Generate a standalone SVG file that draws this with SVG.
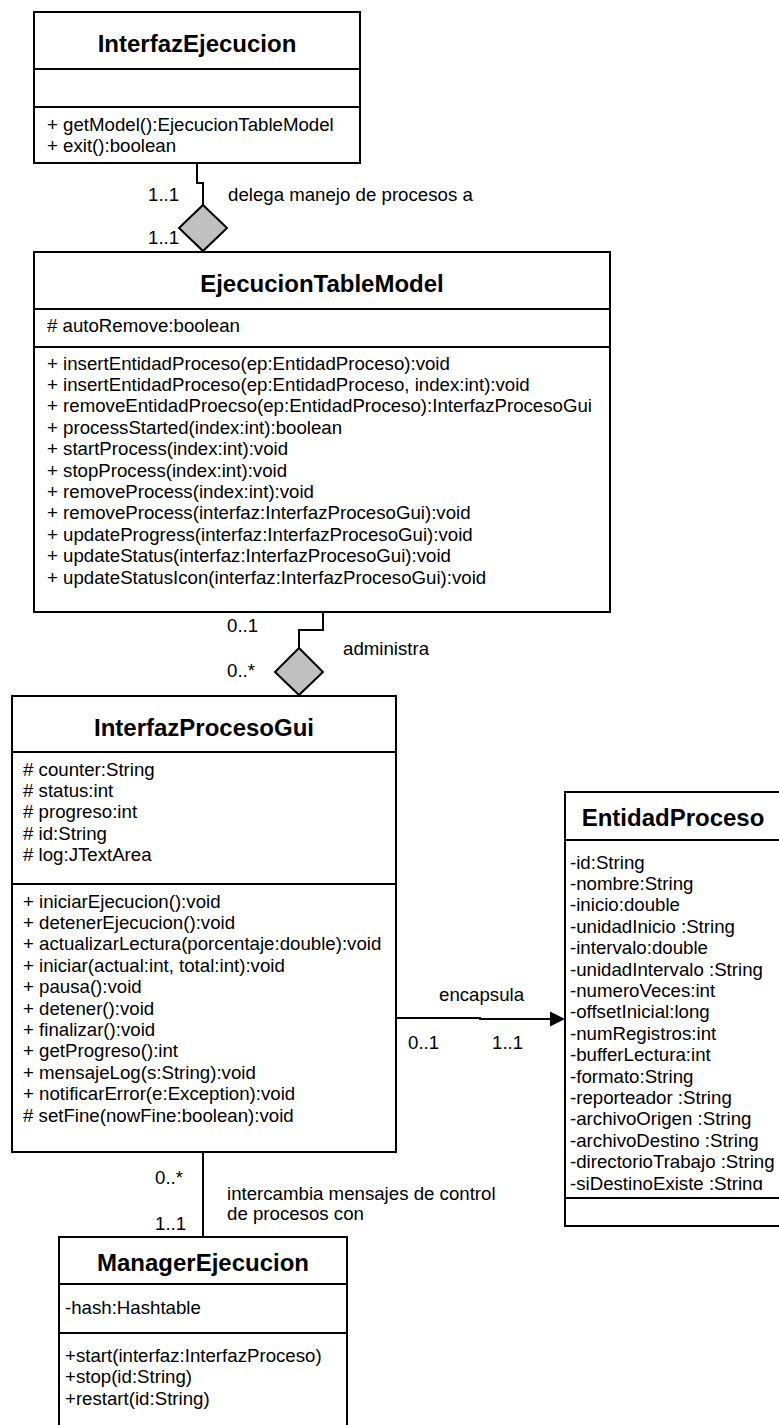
<svg xmlns="http://www.w3.org/2000/svg" width="779" height="1425" viewBox="0 0 779 1425">
<defs>
<style>
.box{fill:#fff;stroke:#000;stroke-width:2}
.div{stroke:#000;stroke-width:2}
.t{font-family:"Liberation Sans",Arial,sans-serif;font-size:18.67px;fill:#000}
.h{font-family:"Liberation Sans",Arial,sans-serif;font-size:24px;font-weight:bold;fill:#000;text-anchor:middle}
.ln{fill:none;stroke:#000;stroke-width:2}
.dia{fill:#c0c0c0;stroke:#000;stroke-width:2}
</style>
<clipPath id="epclip"><rect x="560" y="840" width="230" height="350"/></clipPath>
</defs>
<rect width="779" height="1425" fill="#fff"/>

<g id="connectors">
<polyline class="ln" points="197,163 197,183 203,183 203,205"/>
<polygon class="dia" points="203,205 227,228 203,251 179,228"/>
<polyline class="ln" points="323,612 323,630 299,630 299,648"/>
<polygon class="dia" points="299,648 323,672 299,695 275,672"/>
<polyline class="ln" points="396,1018 480,1018 480,1019 551,1019"/>
<polygon points="550,1011.5 565,1019 550,1026.5" fill="#000"/>
<line class="ln" x1="203" y1="1152" x2="203" y2="1237"/>
<text class="t" x="148" y="200.5">1..1</text>
<text class="t" x="228" y="200.5">delega manejo de procesos a</text>
<text class="t" x="148" y="243.5">1..1</text>
<text class="t" x="227" y="631.5">0..1</text>
<text class="t" x="343" y="654.5">administra</text>
<text class="t" x="227" y="676.5">0..*</text>
<text class="t" x="439" y="1001">encapsula</text>
<text class="t" x="408" y="1049">0..1</text>
<text class="t" x="492" y="1049">1..1</text>
<text class="t" x="155" y="1183.5">0..*</text>
<text class="t" x="227" y="1199.5">intercambia mensajes de control</text>
<text class="t" x="227" y="1219.5">de procesos con</text>
<text class="t" x="155" y="1229.5">1..1</text>
</g>

<g id="InterfazEjecucion">
<rect class="box" x="34" y="12" width="326" height="151"/>
<line class="div" x1="34" y1="69" x2="360" y2="69"/>
<line class="div" x1="34" y1="107" x2="360" y2="107"/>
<text class="h" x="197" y="52">InterfazEjecucion</text>
<text class="t" x="47" y="131">+ getModel():EjecucionTableModel</text>
<text class="t" x="47" y="152.4">+ exit():boolean</text>
</g>

<g id="EjecucionTableModel">
<rect class="box" x="34" y="252" width="576" height="360"/>
<line class="div" x1="34" y1="309" x2="610" y2="309"/>
<line class="div" x1="34" y1="347" x2="610" y2="347"/>
<text class="h" x="322" y="292">EjecucionTableModel</text>
<text class="t" x="47" y="331.5"># autoRemove:boolean</text>
<text class="t" x="47" y="369.5">+ insertEntidadProceso(ep:EntidadProceso):void</text>
<text class="t" x="47" y="390.9">+ insertEntidadProceso(ep:EntidadProceso, index:int):void</text>
<text class="t" x="47" y="412.3">+ removeEntidadProecso(ep:EntidadProceso):InterfazProcesoGui</text>
<text class="t" x="47" y="433.7">+ processStarted(index:int):boolean</text>
<text class="t" x="47" y="455.1">+ startProcess(index:int):void</text>
<text class="t" x="47" y="476.5">+ stopProcess(index:int):void</text>
<text class="t" x="47" y="497.9">+ removeProcess(index:int):void</text>
<text class="t" x="47" y="519.3">+ removeProcess(interfaz:InterfazProcesoGui):void</text>
<text class="t" x="47" y="540.7">+ updateProgress(interfaz:InterfazProcesoGui):void</text>
<text class="t" x="47" y="562.1">+ updateStatus(interfaz:InterfazProcesoGui):void</text>
<text class="t" x="47" y="583.5">+ updateStatusIcon(interfaz:InterfazProcesoGui):void</text>
</g>

<g id="InterfazProcesoGui">
<rect class="box" x="12" y="696" width="384" height="456"/>
<line class="div" x1="12" y1="752" x2="396" y2="752"/>
<line class="div" x1="12" y1="884" x2="396" y2="884"/>
<text class="h" x="204" y="736">InterfazProcesoGui</text>
<text class="t" x="23" y="775.5"># counter:String</text>
<text class="t" x="23" y="796.9"># status:int</text>
<text class="t" x="23" y="818.3"># progreso:int</text>
<text class="t" x="23" y="839.7"># id:String</text>
<text class="t" x="23" y="861.1"># log:JTextArea</text>
<text class="t" x="23" y="907.5">+ iniciarEjecucion():void</text>
<text class="t" x="23" y="928.9">+ detenerEjecucion():void</text>
<text class="t" x="23" y="950.3">+ actualizarLectura(porcentaje:double):void</text>
<text class="t" x="23" y="971.7">+ iniciar(actual:int, total:int):void</text>
<text class="t" x="23" y="993.1">+ pausa():void</text>
<text class="t" x="23" y="1014.5">+ detener():void</text>
<text class="t" x="23" y="1035.9">+ finalizar():void</text>
<text class="t" x="23" y="1057.3">+ getProgreso():int</text>
<text class="t" x="23" y="1078.7">+ mensajeLog(s:String):void</text>
<text class="t" x="23" y="1100.1">+ notificarError(e:Exception):void</text>
<text class="t" x="23" y="1121.5"># setFine(nowFine:boolean):void</text>
</g>

<g id="EntidadProceso">
<rect class="box" x="565" y="792" width="230" height="434"/>
<line class="div" x1="565" y1="840" x2="795" y2="840"/>
<line class="div" x1="565" y1="1198" x2="795" y2="1198"/>
<text class="h" x="673" y="826">EntidadProceso</text>
<g clip-path="url(#epclip)">
<text class="t" x="570" y="868.5">-id:String</text>
<text class="t" x="570" y="889.9">-nombre:String</text>
<text class="t" x="570" y="911.3">-inicio:double</text>
<text class="t" x="570" y="932.7">-unidadInicio :String</text>
<text class="t" x="570" y="954.1">-intervalo:double</text>
<text class="t" x="570" y="975.5">-unidadIntervalo :String</text>
<text class="t" x="570" y="996.9">-numeroVeces:int</text>
<text class="t" x="570" y="1018.3">-offsetInicial:long</text>
<text class="t" x="570" y="1039.7">-numRegistros:int</text>
<text class="t" x="570" y="1061.1">-bufferLectura:int</text>
<text class="t" x="570" y="1082.5">-formato:String</text>
<text class="t" x="570" y="1103.9">-reporteador :String</text>
<text class="t" x="570" y="1125.3">-archivoOrigen :String</text>
<text class="t" x="570" y="1146.7">-archivoDestino :String</text>
<text class="t" x="570" y="1168.1">-directorioTrabajo :String</text>
<text class="t" x="570" y="1189.5">-siDestinoExiste :String</text>
</g>
</g>

<g id="ManagerEjecucion">
<rect class="box" x="59" y="1237" width="288" height="220"/>
<line class="div" x1="59" y1="1284" x2="347" y2="1284"/>
<line class="div" x1="59" y1="1333" x2="347" y2="1333"/>
<text class="h" x="203" y="1271">ManagerEjecucion</text>
<text class="t" x="65" y="1313.5">-hash:Hashtable</text>
<text class="t" x="65" y="1361.5">+start(interfaz:InterfazProceso)</text>
<text class="t" x="65" y="1383">+stop(id:String)</text>
<text class="t" x="65" y="1404.5">+restart(id:String)</text>
</g>
</svg>
